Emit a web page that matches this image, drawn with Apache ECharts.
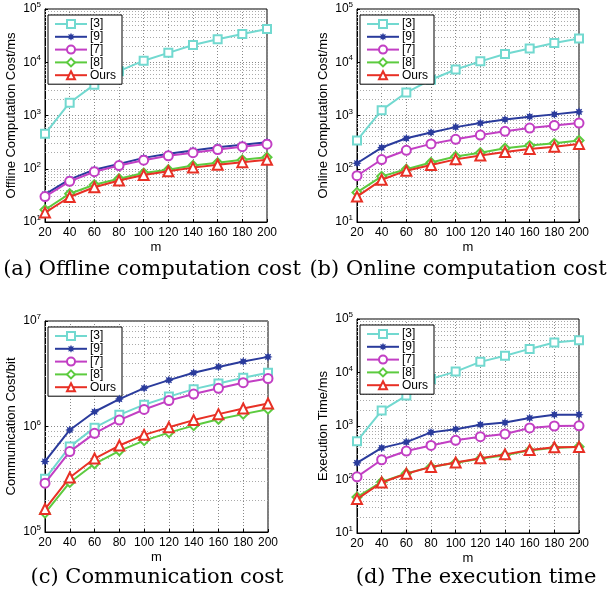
<!DOCTYPE html>
<html lang="en">
<head>
    <meta charset="UTF-8">
    <title>Cost comparison</title>
    <script src="https://cdn.jsdelivr.net/npm/echarts@6/dist/echarts.min.js"></script>
</head>
<body style="margin:0">
    <div id="main" style="width: 614px; height: 598px"></div>
    <script type="text/javascript">
        var mValues = [20, 40, 60, 80, 100, 120, 140, 160, 180, 200];
        var schemes = ['[3]', '[9]', '[7]', '[8]', 'Ours'];

        // (a) offline computation cost / ms
        var offline3 = [453, 1740, 3800, 6800, 10700, 15000, 21100, 27000, 34000, 42000];
        var offline9 = [33, 63, 96, 123, 160, 191, 220, 254, 283, 316];
        var offline7 = [30, 58, 88, 115, 145, 175, 200, 230, 260, 290];
        var offline8 = [17, 34, 50, 65, 83, 96, 115, 130, 147, 165];
        var offlineOurs = [15, 29.5, 45, 60, 76, 90, 105, 119, 133, 147];

        // (b) online computation cost / ms
        var online3 = [340, 1260, 2700, 4700, 7300, 10400, 14300, 18200, 22900, 28000];
        var online9 = [127, 250, 373, 480, 605, 720, 840, 950, 1050, 1170];
        var online7 = [74, 149, 222, 293, 357, 430, 505, 580, 650, 720];
        var online8 = [36, 72, 98, 131, 170, 200, 243, 272, 300, 340];
        var onlineOurs = [30, 62, 92, 118, 150, 178, 206, 236, 260, 293];

        // (c) communication cost / bit
        var comm3 = [319000, 645000, 975000, 1290000, 1610000, 1920000, 2260000, 2560000, 2900000, 3230000];
        var comm9 = [466000, 927000, 1380000, 1820000, 2310000, 2750000, 3230000, 3670000, 4130000, 4570000];
        var comm7 = [290000, 578000, 861000, 1150000, 1450000, 1760000, 2030000, 2300000, 2600000, 2850000];
        var comm8 = [151000, 295000, 443000, 588000, 735000, 875000, 1020000, 1170000, 1310000, 1460000];
        var commOurs = [165000, 329000, 497000, 660000, 833000, 982000, 1150000, 1310000, 1480000, 1650000];

        // (d) execution time / ms
        var exec3 = [520, 1940, 3700, 7600, 10400, 15800, 20500, 27600, 36500, 40000];
        var exec9 = [205, 390, 500, 760, 870, 1060, 1160, 1410, 1630, 1630];
        var exec7 = [112, 234, 340, 433, 540, 630, 710, 920, 1000, 1010];
        var exec8 = [47, 90, 130, 172, 205, 244, 285, 350, 390, 410];
        var execOurs = [43, 88, 128, 172, 208, 250, 295, 355, 400, 405];

        var colors = ['#72d9d0', '#2a3b9c', '#c23fc4', '#5ccb3f', '#e83025'];
        // fat 8-point asterisk-like star for [9]
        var starPath = 'path://M50,0 L61,24 L85,15 L76,39 L100,50 L76,61 L85,85 L61,76 L50,100 L39,76 L15,85 L24,61 L0,50 L24,39 L15,15 L39,24 Z';
        var symbols = ['emptyRect', starPath, 'emptyCircle', 'emptyDiamond', 'emptyTriangle'];
        var symbolSizes = [8, 9, 9, 9, 10];

        var panels = [
            { grid: { left: 45, top: 9, width: 222, height: 213 }, name: 'Offline Computation Cost/ms', min: 10, max: 100000,
              data: [offline3, offline9, offline7, offline8, offlineOurs], caption: '(a) Offline computation cost', cx: 152, cy: 270 },
            { grid: { left: 357, top: 9, width: 222, height: 213 }, name: 'Online Computation Cost/ms', min: 10, max: 100000,
              data: [online3, online9, online7, online8, onlineOurs], caption: '(b) Online computation cost', cx: 458, cy: 270 },
            { grid: { left: 45, top: 321, width: 223, height: 211 }, name: 'Communication Cost/bit', min: 100000, max: 10000000,
              data: [comm3, comm9, comm7, comm8, commOurs], caption: '(c) Communication cost', cx: 157, cy: 578 },
            { grid: { left: 357, top: 319, width: 222, height: 214 }, name: 'Execution Time/ms', min: 10, max: 100000,
              data: [exec3, exec9, exec7, exec8, execOurs], caption: '(d) The execution time', cx: 476, cy: 578 }
        ];

        var font = 'Liberation Sans';
        var option = {
            animation: false,
            backgroundColor: '#fff',
            grid: [], xAxis: [], yAxis: [], legend: [], series: [], graphic: []
        };

        panels.forEach(function (p, i) {
            var g = p.grid;
            option.grid.push({ left: g.left, top: g.top, width: g.width, height: g.height,
                show: true, borderColor: '#000', borderWidth: 1, backgroundColor: '#fff' });
            option.xAxis.push({
                type: 'value', gridIndex: i, min: 20, max: 200, interval: 20,
                name: 'm', nameLocation: 'middle', nameGap: 19,
                nameTextStyle: { fontFamily: font, fontSize: 13, color: '#000' },
                axisLine: { lineStyle: { color: '#000' } },
                axisTick: { inside: true, length: 3, lineStyle: { color: '#000' } },
                axisLabel: { fontFamily: font, fontSize: 12, color: '#000', margin: 5 },
                splitLine: { show: true, lineStyle: { color: '#888', type: [1, 2] } }
            });
            option.yAxis.push({
                type: 'log', logBase: 10, gridIndex: i, min: p.min, max: p.max,
                name: p.name, nameLocation: 'middle', nameGap: 27,
                nameTextStyle: { fontFamily: font, fontSize: 13, color: '#000' },
                axisLine: { show: true, lineStyle: { color: '#000' } },
                axisTick: { inside: true, length: 3, lineStyle: { color: '#000' } },
                axisLabel: {
                    fontFamily: font, fontSize: 12, color: '#000', margin: 4,
                    formatter: function (v) { return '10{s|' + Math.round(Math.log10(v)) + '}'; },
                    rich: { s: { fontFamily: font, fontSize: 8, verticalAlign: 'top', padding: [0, 0, 8, 0] } }
                },
                splitLine: { show: true, lineStyle: { color: '#888', type: [1, 2] } }
            });

            // minor dotted gridlines at 2..9 of each decade
            var minor = [];
            for (var d = p.min; d < p.max; d *= 10) {
                for (var k = 2; k <= 9; k++) minor.push({ yAxis: k * d });
            }

            p.data.forEach(function (vals, s) {
                var ser = {
                    name: schemes[s], type: 'line', xAxisIndex: i, yAxisIndex: i,
                    data: mValues.map(function (m, j) { return [m, vals[j]]; }),
                    symbol: symbols[s], symbolSize: symbolSizes[s],
                    lineStyle: { color: colors[s], width: 2 },
                    itemStyle: { color: colors[s], borderWidth: 1.5 },
                    z: 3 + s
                };
                if (s === 0) {
                    ser.markLine = {
                        silent: true, symbol: 'none', label: { show: false },
                        lineStyle: { color: '#aaa', type: [1, 2], width: 1 },
                        data: minor, z: 1
                    };
                }
                option.series.push(ser);
            });

            option.legend.push({
                data: schemes, orient: 'vertical', left: g.left + 3, top: g.top + 6,
                itemWidth: 32, itemHeight: 10, itemGap: 0.8, padding: [3, 6, 3, 6],
                backgroundColor: '#fff', borderColor: '#000', borderWidth: 1,
                selectedMode: false,
                textStyle: { fontFamily: font, fontSize: 12, lineHeight: 11, color: '#000', padding: [0, 0, 0, -2] }
            });

            option.graphic.push({
                type: 'text', x: p.cx, y: p.cy,
                style: { text: p.caption, font: '21px "DejaVu Serif"', fill: '#000',
                    textAlign: 'center', textVerticalAlign: 'middle' }
            });
        });

        var chart = echarts.init(document.getElementById('main'));
        chart.setOption(option);
    </script>
</body>
</html>
